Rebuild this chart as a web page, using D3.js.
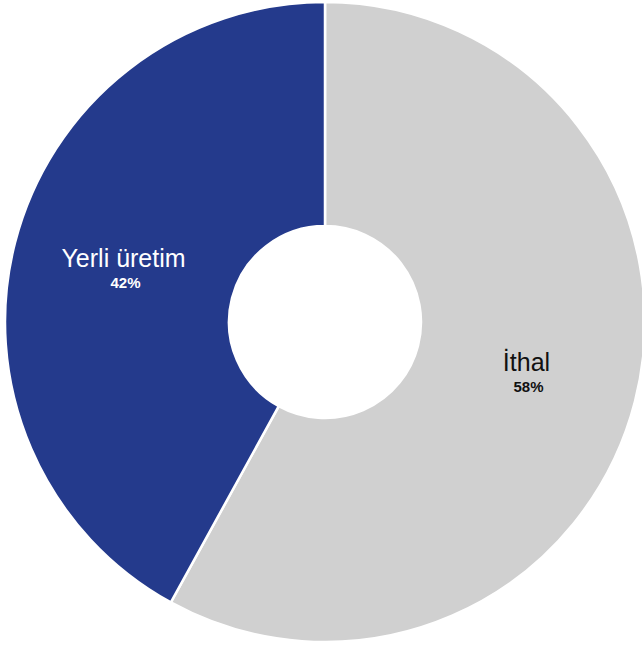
<!DOCTYPE html>
<html>
<head>
    <meta charset="utf-8">
    <title>Donut</title>
    <script src="https://d3js.org/d3.v7.min.js"></script>
    <style>
        body { margin: 0; background: #fff; }
    </style>
</head>
<body>
<script>
    var categories = ["İthal", "Yerli üretim"];
    var values = [58, 42];
    var colors = ["#d0d0d0", "#243a8c"];
    var textColors = ["#111111", "#ffffff"];

    var w = 642, h = 648;
    var cx = 325, cy = 322;
    var outerRadius = 320, innerRadius = 96;

    var svg = d3.select("body").append("svg")
        .attr("width", w)
        .attr("height", h);

    var pie = d3.pie().sort(null);
    var arc = d3.arc().innerRadius(innerRadius).outerRadius(outerRadius);
    var labelArc = d3.arc().innerRadius(208).outerRadius(208);

    var total = d3.sum(values);

    var arcs = svg.selectAll("g.arc")
        .data(pie(values))
        .enter()
        .append("g")
        .attr("class", "arc")
        .attr("transform", "translate(" + cx + "," + cy + ")");

    arcs.append("path")
        .attr("d", arc)
        .attr("fill", function(d, i) { return colors[i]; })
        .attr("stroke", "#fff")
        .attr("stroke-width", 2.5);

    var labels = arcs.append("text")
        .attr("transform", function(d) { return "translate(" + labelArc.centroid(d) + ")"; })
        .attr("text-anchor", "middle")
        .attr("font-family", "Liberation Sans, Arial, sans-serif")
        .attr("fill", function(d, i) { return textColors[i]; });

    labels.append("tspan")
        .attr("x", 0)
        .attr("y", -3)
        .attr("font-size", 25)
        .text(function(d, i) { return categories[i]; });

    labels.append("tspan")
        .attr("x", 2)
        .attr("y", 18)
        .attr("font-size", 15)
        .attr("font-weight", "bold")
        .text(function(d) { return Math.round(d.value / total * 100) + "%"; });
</script>
</body>
</html>
